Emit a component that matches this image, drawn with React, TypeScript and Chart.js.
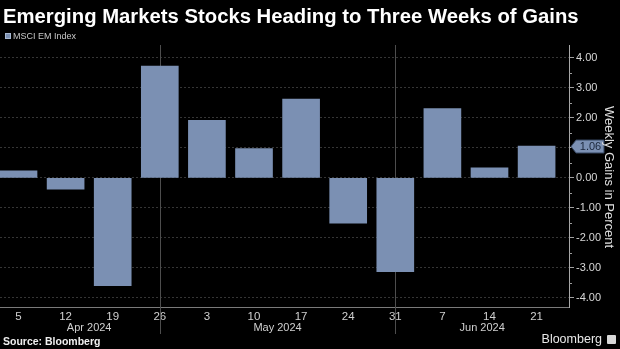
import React, { useEffect, useRef } from 'react';
import { Chart, registerables } from 'chart.js';

Chart.register(...registerables);

// ---- data ----
const weekLabels = ['5', '12', '19', '26', '3', '10', '17', '24', '31', '7', '14', '21'];
const weeklyGains = [0.24, -0.37, -3.59, 3.73, 1.92, 0.98, 2.63, -1.51, -3.12, 2.31, 0.34, 1.06];
const monthNames = ['Apr 2024', 'May 2024', 'Jun 2024'];
const monthLastWeekIndex = [3, 8]; // "26" (Apr) and "31" (May) close a month
const seriesName = 'MSCI EM Index';
const chartTitle = 'Emerging Markets Stocks Heading to Three Weeks of Gains';
const yAxisTitle = 'Weekly Gains in Percent';

const BAR = '#7b90b3';
const SANS = '"Liberation Sans", Arial, sans-serif';

const overlayPlugin = {
  id: 'overlay',
  beforeDatasetsDraw(chart: any) {
    const { ctx, chartArea, scales } = chart;
    const x = scales.x;
    ctx.save();
    ctx.strokeStyle = '#4d4d4d';
    ctx.lineWidth = 1;
    monthLastWeekIndex.forEach((i) => {
      const px = Math.round(x.getPixelForValue(i)) + 0.5;
      ctx.beginPath();
      ctx.moveTo(px, chartArea.top);
      ctx.lineTo(px, chartArea.bottom + 27);
      ctx.stroke();
    });
    ctx.restore();
  },
  afterDraw(chart: any) {
    const { ctx, chartArea, scales } = chart;
    const x = scales.x;
    const y = scales.y;
    ctx.save();
    // minor ticks on the value axis
    ctx.strokeStyle = '#9a9a9a';
    ctx.lineWidth = 1;
    for (let v = Math.ceil(y.min * 2) / 2; v <= y.max; v += 0.5) {
      if (Number.isInteger(v)) continue;
      const py = Math.round(y.getPixelForValue(v)) + 0.5;
      ctx.beginPath();
      ctx.moveTo(chartArea.right, py);
      ctx.lineTo(chartArea.right + 3, py);
      ctx.stroke();
    }
    // month labels
    const bounds = [0, ...monthLastWeekIndex, x.max];
    ctx.fillStyle = '#d0d0d0';
    ctx.font = `11px ${SANS}`;
    ctx.textAlign = 'center';
    ctx.textBaseline = 'middle';
    monthNames.forEach((m, k) => {
      const c = (bounds[k] + bounds[k + 1]) / 2;
      ctx.fillText(m, x.getPixelForValue(c), chartArea.bottom + 21);
    });
    // last value callout
    const last = weeklyGains[weeklyGains.length - 1];
    const yc = Math.round(y.getPixelForValue(last)) + 0.5;
    const x0 = chartArea.right + 2;
    const x1 = x0 + 5;
    const x2 = x0 + 33;
    const h = 6.5;
    ctx.beginPath();
    ctx.moveTo(x0, yc);
    ctx.lineTo(x1, yc - h);
    ctx.lineTo(x2, yc - h);
    ctx.lineTo(x2, yc + h);
    ctx.lineTo(x1, yc + h);
    ctx.closePath();
    ctx.fillStyle = BAR;
    ctx.fill();
    ctx.strokeStyle = '#34445e';
    ctx.stroke();
    ctx.fillStyle = '#1b263a';
    ctx.font = `11px ${SANS}`;
    ctx.textAlign = 'center';
    ctx.fillText(last.toFixed(2), (x1 + x2) / 2 + 0.5, yc + 0.5);
    // axis title
    ctx.translate(609, (chartArea.top + chartArea.bottom) / 2 + 1);
    ctx.rotate(Math.PI / 2);
    ctx.fillStyle = '#e0e0e0';
    ctx.font = `13px ${SANS}`;
    ctx.fillText(yAxisTitle, 0, 0);
    ctx.restore();
  },
};

function BarChart() {
  const ref = useRef<HTMLCanvasElement | null>(null);
  useEffect(() => {
    const canvas = ref.current;
    if (!canvas) return;
    const chart = new Chart(canvas, {
      type: 'bar',
      data: {
        datasets: [
          {
            label: seriesName,
            data: weeklyGains.map((v, i) => ({ x: i, y: v })),
            backgroundColor: BAR,
            borderWidth: 0,
            barThickness: 37,
          },
        ],
      },
      options: {
        animation: false,
        responsive: false,
        maintainAspectRatio: false,
        layout: { padding: { top: 45, left: 0, right: 0, bottom: 0 } },
        plugins: {
          legend: { display: false },
          tooltip: { enabled: false },
          title: { display: false },
        },
        scales: {
          x: {
            type: 'linear',
            offset: false,
            min: -0.393,
            max: 11.688,
            grid: { display: false, drawTicks: false },
            border: { display: true, color: '#7a7a7a', width: 1 },
            ticks: {
              stepSize: 1,
              includeBounds: false,
              autoSkip: false,
              maxRotation: 0,
              padding: 3,
              color: '#d0d0d0',
              font: { size: 11.5, family: SANS },
              callback: (v: any) => {
                const n = Number(v);
                return Number.isInteger(n) && n >= 0 && n < weekLabels.length ? weekLabels[n] : '';
              },
            },
            afterFit: (s: any) => {
              s.height = 42;
            },
          },
          y: {
            position: 'right',
            min: -4.3,
            max: 4.43,
            grid: {
              color: '#353535',
              drawOnChartArea: true,
              drawTicks: true,
              tickLength: 5,
              tickColor: '#a0a0a0',
              tickBorderDash: [],
            },
            border: { display: true, color: '#a8a8a8', width: 1, dash: [2, 2] },
            ticks: {
              stepSize: 1,
              includeBounds: false,
              padding: 2,
              color: '#d8d8d8',
              font: { size: 11, family: SANS },
              callback: (v: any) => Number(v).toFixed(2),
            },
            afterFit: (s: any) => {
              s.width = 51;
            },
          },
        },
      },
      plugins: [overlayPlugin],
    } as any);
    return () => chart.destroy();
  }, []);
  return <canvas ref={ref} width={620} height={349} style={{ position: 'absolute', left: 0, top: 0 }} />;
}

export default function App() {
  return (
    <div
      style={{
        position: 'fixed',
        left: 0,
        top: 0,
        width: 620,
        height: 349,
        background: '#000',
        overflow: 'hidden',
      }}
    >
      <BarChart />
      <div
        style={{
          position: 'absolute',
          left: 3,
          top: 3,
          fontFamily: SANS,
          fontWeight: 700,
          fontSize: 20.3,
          lineHeight: '27px',
          color: '#fff',
          whiteSpace: 'nowrap',
        }}
      >
        {chartTitle}
      </div>
      <div
        style={{
          position: 'absolute',
          left: 5,
          top: 29,
          display: 'flex',
          alignItems: 'center',
          fontFamily: SANS,
          fontSize: 9,
          lineHeight: '14px',
          color: '#c8c8c8',
        }}
      >
        <span
          style={{
            display: 'inline-block',
            width: 6,
            height: 6,
            background: BAR,
            border: '1px solid #a8b8d0',
            boxSizing: 'border-box',
            marginRight: 2,
          }}
        />
        {seriesName}
      </div>
      <div
        style={{
          position: 'absolute',
          left: 3,
          top: 334,
          fontFamily: SANS,
          fontWeight: 700,
          fontSize: 10.5,
          lineHeight: '15px',
          color: '#f0f0f0',
        }}
      >
        Source: Bloomberg
      </div>
      <div
        style={{
          position: 'absolute',
          right: 4,
          top: 331,
          display: 'flex',
          alignItems: 'center',
          fontFamily: SANS,
          fontSize: 12.5,
          lineHeight: '17px',
          color: '#e8e8e8',
        }}
      >
        Bloomberg
        <span
          style={{
            display: 'inline-block',
            width: 9,
            height: 9,
            marginLeft: 5,
            background: '#d8d8d8',
            borderRadius: 1,
          }}
        />
      </div>
    </div>
  );
}
